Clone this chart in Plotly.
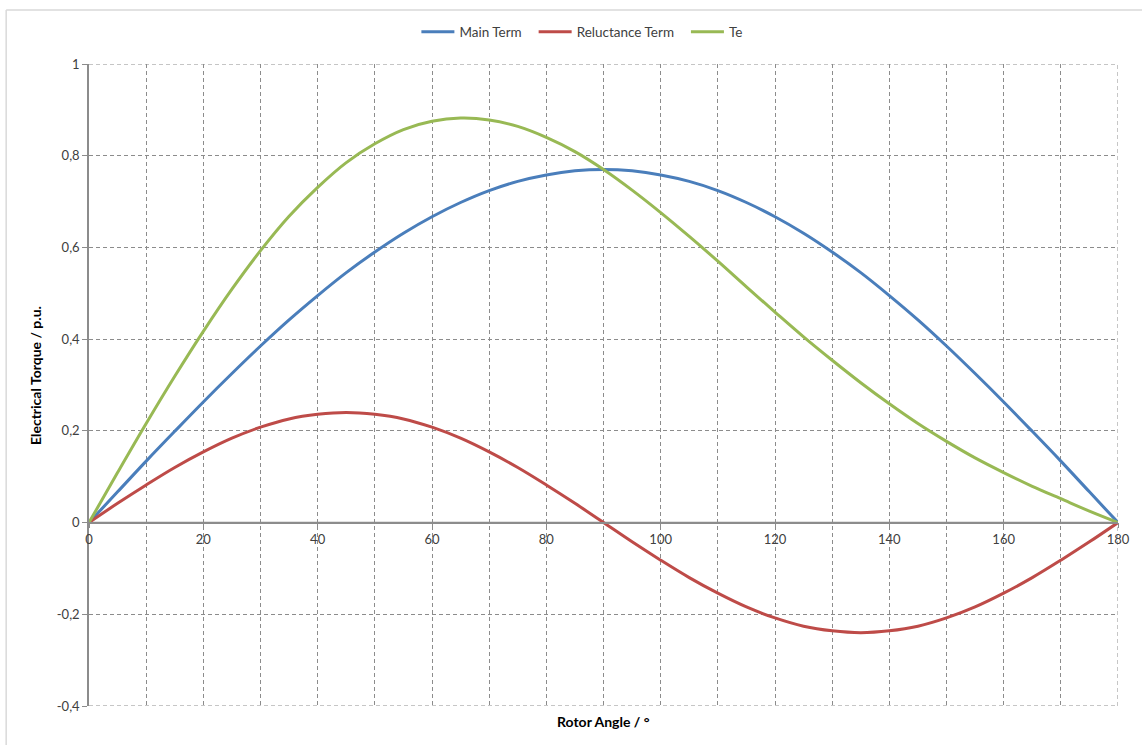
import plotly.graph_objects as go

angle = list(range(0, 181, 5))
main_term = [0.000, 0.067, 0.134, 0.199, 0.263, 0.325, 0.385, 0.442, 0.495, 0.545,
             0.590, 0.631, 0.667, 0.698, 0.724, 0.744, 0.758, 0.767, 0.770, 0.767,
             0.758, 0.744, 0.724, 0.698, 0.667, 0.631, 0.590, 0.545, 0.495, 0.442,
             0.385, 0.325, 0.263, 0.199, 0.134, 0.067, 0.000]
reluctance_term = [0.000, 0.042, 0.082, 0.120, 0.154, 0.184, 0.208, 0.226, 0.236, 0.240,
                   0.236, 0.226, 0.208, 0.184, 0.154, 0.120, 0.082, 0.042, 0.000, -0.042,
                   -0.082, -0.120, -0.154, -0.184, -0.208, -0.226, -0.236, -0.240, -0.236, -0.226,
                   -0.208, -0.184, -0.154, -0.120, -0.082, -0.042, 0.000]
te = [0.000, 0.109, 0.216, 0.319, 0.417, 0.509, 0.593, 0.668, 0.731, 0.785,
      0.826, 0.857, 0.875, 0.882, 0.878, 0.864, 0.840, 0.809, 0.770, 0.725,
      0.676, 0.624, 0.570, 0.514, 0.459, 0.405, 0.354, 0.305, 0.259, 0.216,
      0.177, 0.141, 0.109, 0.079, 0.052, 0.025, 0.000]

x_ticks = [0, 20, 40, 60, 80, 100, 120, 140, 160, 180]
y_tickvals = [-0.4, -0.2, 0, 0.2, 0.4, 0.6, 0.8, 1]
y_ticktext = ["-0,4", "-0,2", "0", "0,2", "0,4", "0,6", "0,8", "1"]

FONT = "Lato, 'Open Sans', sans-serif"
GRID = "#8c8c8c"
AXIS = "#8c8c8c"
DASH = "4px,3px"

fig = go.Figure()
fig.add_trace(go.Scatter(x=angle, y=main_term, mode="lines", name="Main Term  ",
                         line=dict(color="#4a7ebb", width=3, shape="spline")))
fig.add_trace(go.Scatter(x=angle, y=reluctance_term, mode="lines", name="Reluctance Term  ",
                         line=dict(color="#be4b48", width=3, shape="spline")))
fig.add_trace(go.Scatter(x=angle, y=te, mode="lines", name="Te",
                         line=dict(color="#98b954", width=3, shape="spline")))

edge_grid = [
    dict(type="line", xref="x", yref="y", x0=0, x1=180, y0=1, y1=1, layer="below",
         line=dict(color=GRID, width=1, dash=DASH)),
    dict(type="line", xref="x", yref="y", x0=0, x1=180, y0=-0.4, y1=-0.4, layer="below",
         line=dict(color=GRID, width=1, dash=DASH)),
    dict(type="line", xref="x", yref="y", x0=180, x1=180, y0=-0.4, y1=1, layer="below",
         line=dict(color=GRID, width=1, dash=DASH)),
]

fig.update_layout(
    width=1142, height=745,
    margin=dict(l=89, r=22, t=64, b=39),
    paper_bgcolor="white", plot_bgcolor="white",
    font=dict(family=FONT, size=13, color="#404040"),
    showlegend=True,
    legend=dict(orientation="h", x=0.479, xanchor="center", y=1.05, yanchor="middle",
                font=dict(family=FONT, size=13.5, color="#404040"),
                itemwidth=33, tracegroupgap=0),
    xaxis=dict(range=[0, 180], tickvals=x_ticks, showgrid=True, gridcolor=GRID,
               griddash=DASH, gridwidth=1,
               minor=dict(dtick=10, showgrid=True, gridcolor=GRID, griddash=DASH, gridwidth=1),
               anchor="free", position=0.4 / 1.4,
               showline=True, linecolor=AXIS, linewidth=1.5,
               ticks="outside", ticklen=5, tickcolor=AXIS,
               tickfont=dict(family=FONT, size=13, color="#404040"),
               zeroline=False),
    yaxis=dict(range=[-0.4, 1], tickvals=y_tickvals, ticktext=y_ticktext,
               showgrid=True, gridcolor=GRID, griddash=DASH, gridwidth=1,
               showline=True, linecolor=AXIS, linewidth=1.5,
               ticks="outside", ticklen=5, tickcolor=AXIS,
               tickfont=dict(family=FONT, size=13, color="#404040"),
               zeroline=False),
    shapes=edge_grid + [
        dict(type="line", xref="paper", yref="paper", x0=-0.0805, x1=1.05, y0=1.084, y1=1.084,
             line=dict(color="#d9d9d9", width=1.5)),
        dict(type="line", xref="paper", yref="paper", x0=-0.0805, x1=-0.0805, y0=-0.1, y1=1.084,
             line=dict(color="#d9d9d9", width=1.5)),
        dict(type="line", xref="x", yref="y", x0=0, x1=180, y0=0, y1=0, layer="below",
             line=dict(color=AXIS, width=1.5)),
    ],
    annotations=[
        dict(text="<b>Rotor Angle / °</b>", xref="paper", yref="paper", x=0.5, y=-0.0234,
             xanchor="center", yanchor="middle", showarrow=False,
             font=dict(family=FONT, size=14, color="#000000")),
        dict(text="<b>Electrical Torque / p.u.</b>", xref="paper", yref="paper", x=-0.0524, y=0.514,
             xanchor="center", yanchor="middle", textangle=-90, showarrow=False,
             font=dict(family=FONT, size=14, color="#000000")),
    ],
)

fig.write_html("out.html")
